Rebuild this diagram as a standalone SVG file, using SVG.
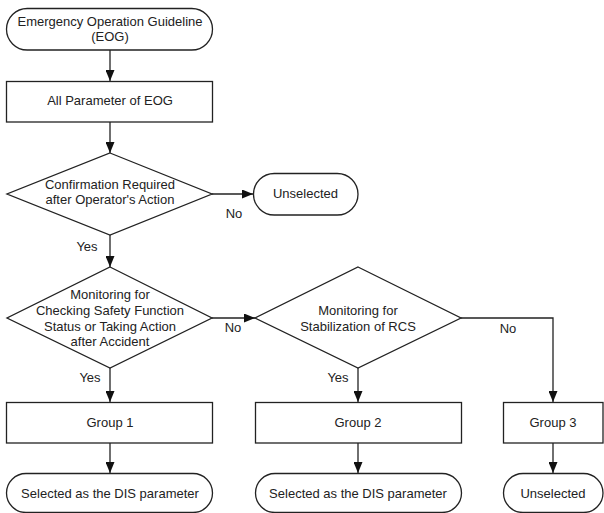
<svg xmlns="http://www.w3.org/2000/svg" width="604" height="513" viewBox="0 0 604 513">
<style>
.s{fill:#fff;stroke:#222;stroke-width:1.3}
.t{font-family:"Liberation Sans",Arial,sans-serif;font-size:13px;fill:#222;text-anchor:middle}
.c{fill:none;stroke:#222;stroke-width:1.3}
</style>
<defs>
<marker id="ah" markerUnits="userSpaceOnUse" markerWidth="11" markerHeight="9" refX="11" refY="4.5" orient="auto">
<path d="M0,0 L11,4.5 L0,9 z" fill="#111"/>
</marker>
</defs>
<rect width="604" height="513" fill="#fff"/>
<g id="connectors">
<path class="c" d="M110,50 V81" marker-end="url(#ah)"/>
<path class="c" d="M110,122 V153" marker-end="url(#ah)"/>
<path class="c" d="M212,194 H253" marker-end="url(#ah)"/>
<path class="c" d="M110,235 V267" marker-end="url(#ah)"/>
<path class="c" d="M212,318 H255" marker-end="url(#ah)"/>
<path class="c" d="M110,368 V402" marker-end="url(#ah)"/>
<path class="c" d="M358,368 V402" marker-end="url(#ah)"/>
<path class="c" d="M461,318 H553 V402" marker-end="url(#ah)"/>
<path class="c" d="M110,443 V473" marker-end="url(#ah)"/>
<path class="c" d="M358,443 V473" marker-end="url(#ah)"/>
<path class="c" d="M553,443 V473" marker-end="url(#ah)"/>
<text class="t" x="234" y="218">No</text>
<text class="t" x="87" y="251">Yes</text>
<text class="t" x="233" y="332">No</text>
<text class="t" x="90" y="382">Yes</text>
<text class="t" x="338" y="382">Yes</text>
<text class="t" x="508" y="333">No</text>
</g>
<g id="start">
<rect class="s" x="6.5" y="8.5" width="206" height="41.5" rx="20.75"/>
<text class="t" x="110" y="26">Emergency Operation Guideline</text>
<text class="t" x="110" y="41">(EOG)</text>
</g>
<g id="allparam">
<rect class="s" x="6.5" y="81.5" width="206" height="40.5"/>
<text class="t" x="110" y="105">All Parameter of EOG</text>
</g>
<g id="decision1">
<polygon class="s" points="110,153 212,194 110,235 7,194"/>
<text class="t" x="110" y="188.5">Confirmation Required</text>
<text class="t" x="110" y="203.5">after Operator's Action</text>
</g>
<g id="unselected1">
<rect class="s" x="253.5" y="173.5" width="104.5" height="41.5" rx="20.75"/>
<text class="t" x="305.5" y="198">Unselected</text>
</g>
<g id="decision2">
<polygon class="s" points="110,267 212,318 110,368 7,318"/>
<text class="t" x="110" y="298.5">Monitoring for</text>
<text class="t" x="110" y="314.5">Checking Safety Function</text>
<text class="t" x="110" y="330.5">Status or Taking Action</text>
<text class="t" x="110" y="346">after Accident</text>
</g>
<g id="decision3">
<polygon class="s" points="358,267 461,318 358,368 255,318"/>
<text class="t" x="358" y="314.5">Monitoring for</text>
<text class="t" x="358" y="330.5">Stabilization of RCS</text>
</g>
<g id="group1">
<rect class="s" x="6.5" y="402.5" width="206" height="40.5"/>
<text class="t" x="110" y="427">Group 1</text>
</g>
<g id="group2">
<rect class="s" x="255.5" y="402.5" width="206" height="40.5"/>
<text class="t" x="358" y="427">Group 2</text>
</g>
<g id="group3">
<rect class="s" x="503.5" y="402.5" width="99.5" height="40.5"/>
<text class="t" x="553" y="427">Group 3</text>
</g>
<g id="selected1">
<rect class="s" x="6.5" y="473.5" width="206" height="39" rx="19.5"/>
<text class="t" x="110" y="497.5">Selected as the DIS parameter</text>
</g>
<g id="selected2">
<rect class="s" x="255.5" y="473.5" width="206" height="39" rx="19.5"/>
<text class="t" x="358" y="497.5">Selected as the DIS parameter</text>
</g>
<g id="unselected2">
<rect class="s" x="503.5" y="473.5" width="99.5" height="39" rx="19.5"/>
<text class="t" x="553" y="497.5">Unselected</text>
</g>
</svg>
